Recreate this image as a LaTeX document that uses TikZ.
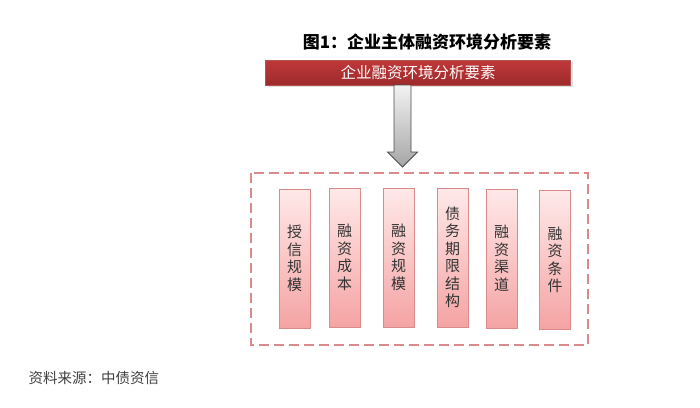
\documentclass[tikz,border=0pt]{standalone}
\usepackage{fontspec}
\usepackage{xcolor}
\usepackage{tikz}
\usetikzlibrary{calc,shadows}
\newfontfamily\cjk{Noto Sans CJK SC}
\definecolor{banred}{HTML}{C0383A}
\definecolor{bandark}{HTML}{9E2A2B}
\definecolor{pinkline}{HTML}{DA8A8A}
\definecolor{pinktop}{HTML}{FFE9E9}
\definecolor{pinkbot}{HTML}{F5A3A3}
\definecolor{srcgray}{HTML}{404040}
\tikzset{
  factor/.style={draw=pinkline,top color=pinktop,bottom color=pinkbot,minimum width=31pt,minimum height=139pt,
    inner sep=0pt,align=center,font=\cjk\fontsize{15}{17.5}\selectfont,text=black!80},
  banner/.style={draw=bandark!80,top color=banred,bottom color=bandark,minimum width=305pt,minimum height=25pt,
    inner sep=0pt,font=\cjk\fontsize{15.5}{16}\selectfont,text=white!92!pink,drop shadow={opacity=.25}},
  blockarrow/.style={draw=black!70,line width=.8pt,top color=black!5,bottom color=black!35}
}
\begin{document}
\begin{tikzpicture}[x=1pt,y=-1pt]
\useasboundingbox (0,0) rectangle (700,407);
\node[font=\cjk\bfseries\fontsize{17}{18}\selectfont] (title) at (427,42) {图1：企业主体融资环境分析要素};
\node[banner] (ban) at (418,72.5) {企业融资环境分析要素};
\draw[pinkline,line width=1.4pt,dash pattern=on 10pt off 5pt] (251,173) rectangle (588,345);
\coordinate (atop) at (402.5,85); \coordinate (atip) at (402.5,167);
\path[blockarrow] ($(atop)+(-8.5,0)$) -- ($(atop)+(8.5,0)$) -- ($(atip)+(8.5,-15)$) -- ($(atip)+(15,-15)$)
  -- (atip) -- ($(atip)+(-15,-15)$) -- ($(atip)+(-8.5,-15)$) -- cycle;
\node[factor] (f1) at (294.5,258.5) {授\\信\\规\\模};
\node[factor] (f2) at (344.5,257.5) {融\\资\\成\\本};
\node[factor] (f3) at (398.5,257.5) {融\\资\\规\\模};
\node[factor] (f4) at (452.5,257.5) {债\\务\\期\\限\\结\\构};
\node[factor] (f5) at (501.5,258.5) {融\\资\\渠\\道};
\node[factor] (f6) at (555,260) {融\\资\\条\\件};
\node[anchor=west,font=\cjk\fontsize{14.5}{16}\selectfont,text=srcgray] (src) at (25,378) {资料来源：中债资信};
\end{tikzpicture}
\end{document}
